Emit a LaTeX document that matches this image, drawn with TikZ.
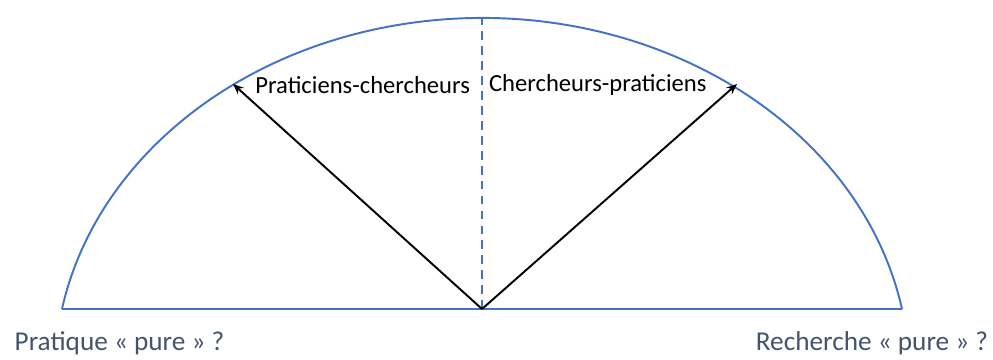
\documentclass[tikz,border=0pt]{standalone}
\usepackage{fontspec}
\setmainfont{Carlito}
\usetikzlibrary{arrows.meta}
\definecolor{arcblue}{HTML}{4472C4}
\definecolor{labelgray}{HTML}{44546A}
\begin{document}
\begin{tikzpicture}[
    arcline/.style={arcblue, line width=1.1pt},
    vecline/.style={-{Stealth[length=6pt,width=5pt]}, line width=1.1pt, black},
    toplabel/.style={font=\fontsize{14}{16}\selectfont, inner sep=1pt},
    endlabel/.style={font=\fontsize{15.5}{18}\selectfont, text=labelgray}
  ]
    \useasboundingbox (0,0) rectangle (19.86,7.2);

    % Segment d'ellipse (centre sous la base)
    \coordinate (O) at (9.64,1.02);
    \coordinate (L) at (1.24,1.02);
    \coordinate (R) at (18.04,1.02);
    \coordinate (T) at (9.64,6.84);
    \draw[arcline] (L) -- (R);
    \draw[arcline] (R) arc[start angle=10.65, end angle=169.35, x radius=8.548, y radius=7.14];
    \draw[arcline, dash pattern=on 5pt off 3.5pt] (O) -- (T);

    % Les deux vecteurs
    \coordinate (PC) at (4.66,5.52);
    \coordinate (CP) at (14.74,5.52);
    \draw[vecline] (O) -- (PC);
    \draw[vecline] (O) -- (CP);

    % Etiquettes
    \node[toplabel, anchor=east] (prat) at (9.44,5.5) {Praticiens-chercheurs};
    \node[toplabel, anchor=west] (cherch) at (9.74,5.5) {Chercheurs-praticiens};
    \node[endlabel] (pure1) at (2.39,0.34) {Pratique « pure » ?};
    \node[endlabel] (pure2) at (17.44,0.34) {Recherche « pure » ?};
\end{tikzpicture}
\end{document}
